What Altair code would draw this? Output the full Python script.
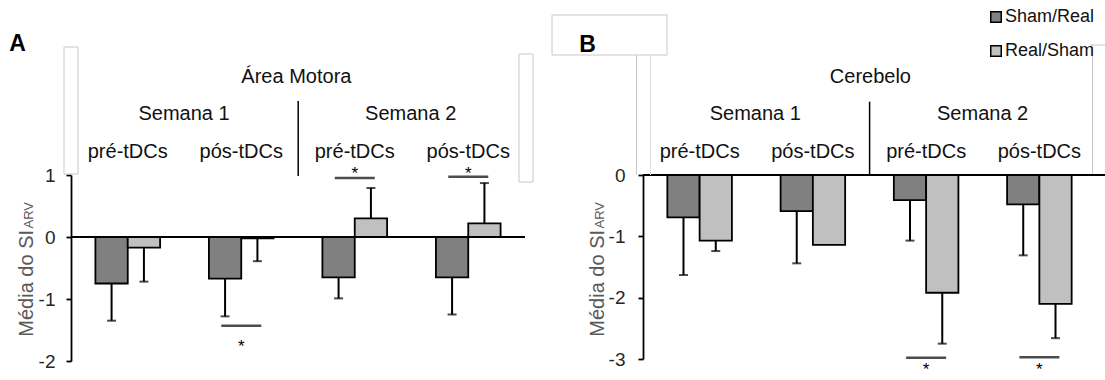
import altair as alt
import pandas as pd

FONT = "Liberation Sans"

# ---------------- data ----------------
groups = ["S1 pré", "S1 pós", "S2 pré", "S2 pós"]
group_labels = ["pré-tDCs", "pós-tDCs", "pré-tDCs", "pós-tDCs"]
series = ["Sham/Real", "Real/Sham"]
colors = ["#808080", "#c0c0c0"]

# Panel A - Área Motora
motor_sham_real = [-0.75, -0.67, -0.65, -0.65]
motor_sham_real_err = [-1.35, -1.28, -0.99, -1.25]
motor_real_sham = [-0.17, -0.02, 0.30, 0.22]
motor_real_sham_err = [-0.72, -0.39, 0.79, 0.87]
motor_sig_groups = ["S1 pós", "S2 pré", "S2 pós"]
motor_sig_line = [-1.43, 0.95, 0.97]
motor_sig_star = [-1.70, 1.09, 1.09]

# Panel B - Cerebelo
cereb_sham_real = [-0.69, -0.59, -0.41, -0.48]
cereb_sham_real_err = [-1.63, -1.44, -1.07, -1.31]
cereb_real_sham = [-1.07, -1.14, -1.92, -2.10]
cereb_real_sham_err = [-1.24, None, -2.75, -2.66]
cereb_sig_groups = ["S2 pré", "S2 pós"]
cereb_sig_line = [-2.98, -2.97]
cereb_sig_star = [-3.09, -3.09]

motor_ticks = [1, 0, -1, -2]
cereb_ticks = [0, -1, -2, -3]


def bars_frame(a, a_err, b, b_err):
    rows = []
    for i, g in enumerate(groups):
        rows.append({"group": g, "series": series[0], "value": a[i], "err": a_err[i]})
        rows.append({"group": g, "series": series[1], "value": b[i], "err": b_err[i]})
    return pd.DataFrame(rows)


def sig_frame(gs, line, star):
    return pd.DataFrame({"group": gs, "line": line, "star": star})


labels_df = pd.DataFrame({"group": groups, "label": group_labels})
ONE = alt.Data(values=[{"k": 1}])


def txt(text, x, y, size=20, weight="normal", color="#111111", align="center",
        angle=0, baseline="middle"):
    return alt.Chart(ONE).mark_text(
        text=text, font=FONT, fontSize=size, fontWeight=weight, color=color,
        align=align, baseline=baseline, angle=angle
    ).encode(x=alt.value(x), y=alt.value(y))


def box(x1, y1, x2, y2, color="#c8c8c8"):
    return alt.Chart(ONE).mark_rect(fillOpacity=0, stroke=color, strokeWidth=1).encode(
        x=alt.value(x1), x2=alt.value(x2), y=alt.value(y1), y2=alt.value(y2))


def vline(x, y1, y2, color="black", w=1.5):
    return alt.Chart(ONE).mark_rule(color=color, strokeWidth=w).encode(
        x=alt.value(x), y=alt.value(y1), y2=alt.value(y2))


def hline(x1, x2, y, color="black", w=1.5):
    return alt.Chart(ONE).mark_rule(color=color, strokeWidth=w).encode(
        x=alt.value(x1), x2=alt.value(x2), y=alt.value(y))


legend = alt.Legend(orient="none", legendX=916, legendY=-167, title=None,
                    symbolType="square", symbolSize=110, symbolStrokeColor="black",
                    symbolStrokeWidth=1.5, symbolOpacity=1, labelFont=FONT,
                    labelFontSize=18, labelColor="#111111", labelOffset=0,
                    rowPadding=16, padding=0)


def panel(df, sig, ydomain, yrange, xrange, ticks, axis_offset, label_pad, zero_x2):
    xscale = alt.Scale(domain=groups, range=xrange, paddingInner=0.43, paddingOuter=0.215)
    X = alt.X("group:N", sort=groups, scale=xscale, axis=None)
    XO = alt.XOffset("series:N", sort=series,
                     scale=alt.Scale(domain=series, paddingInner=0, paddingOuter=0))
    ys = alt.Scale(domain=ydomain, range=yrange, nice=False, zero=False)
    axis = alt.Axis(orient="left", values=ticks, offset=axis_offset, title=None,
                    grid=False, tickSize=5, tickWidth=1.8, tickColor="black",
                    domainColor="black", domainWidth=1.8, labelFont=FONT,
                    labelFontSize=19, labelColor="#262626", labelPadding=label_pad,
                    labelExpr="'' + datum.value", labelFlush=False, labelOverlap=False)
    base = alt.Chart(df)
    bars = base.mark_bar(stroke="black", strokeWidth=1.8).encode(
        x=X, xOffset=XO,
        y=alt.Y("value:Q", scale=ys, axis=axis, stack=None),
        y2=alt.Y2(datum=0),
        color=alt.Color("series:N", sort=series,
                        scale=alt.Scale(domain=series, range=colors), legend=legend),
    )
    err = base.mark_rule(color="black", strokeWidth=2).encode(
        x=X, xOffset=XO, y=alt.Y("value:Q", scale=ys), y2="err:Q")
    caps = base.mark_tick(color="black", thickness=2, size=9).encode(
        x=X, xOffset=XO, y=alt.Y("err:Q", scale=ys))
    zero = alt.Chart(ONE).mark_rule(color="black", strokeWidth=1.8).encode(
        y=alt.YDatum(0, type="quantitative", scale=ys),
        x=alt.value(xrange[0]), x2=alt.value(zero_x2))
    sigc = alt.Chart(sig)
    sig_lines = sigc.mark_tick(color="black", thickness=2.5, size=40).encode(
        x=X, y=alt.Y("line:Q", scale=ys))
    stars = sigc.mark_text(text="*", font=FONT, fontSize=17, dy=5, color="black").encode(
        x=X, y=alt.Y("star:Q", scale=ys))
    labs = alt.Chart(labels_df).mark_text(font=FONT, fontSize=20, color="#111111",
                                          baseline="middle").encode(
        x=X, y=alt.value(-23.3), text="label:N")
    return alt.layer(bars, zero, err, caps, sig_lines, stars, labs)


left = panel(bars_frame(motor_sham_real, motor_sham_real_err, motor_real_sham, motor_real_sham_err),
             sig_frame(motor_sig_groups, motor_sig_line, motor_sig_star),
             [-2, 1], [186, 0], [0, 454], motor_ticks, 0, 11, 454)

right = panel(bars_frame(cereb_sham_real, cereb_sham_real_err, cereb_real_sham, cereb_real_sham_err),
              sig_frame(cereb_sig_groups, cereb_sig_line, cereb_sig_star),
              [-3, 0], [184, 0], [572, 1025], cereb_ticks, -572, 13, 1034)

deco = alt.layer(
    # faint frame remnants
    box(-7, -128, 7, -1),
    box(448, -121, 462, 7),
    box(481, -160, 596, -120),
    vline(565.5, -120, 0, "#c8c8c8", 1),
    vline(579.5, -120, 0, "#e0e0e0", 1),
    vline(1021.5, -130, -1, "#c8c8c8", 1),
    hline(1019, 1034, -130, "#c8c8c8", 1),
    # headers panel A
    txt("Área Motora", 225.4, -98.3),
    txt("Semana 1", 113, -61),
    txt("Semana 2", 339.7, -61),
    vline(227.2, -74, 1),
    # headers panel B
    txt("Cerebelo", 799.4, -98.3),
    txt("Semana 1", 684.3, -61),
    txt("Semana 2", 911.6, -61),
    vline(798.6, -73.3, 0),
    # panel letters
    txt("A", -61.7, -131, size=23, weight="bold", color="black", align="left"),
    txt("B", 508.3, -130, size=23, weight="bold", color="black", align="left"),
    # y titles
    txt("Média do SI", -38, 161.7, size=20, color="#595959", align="left", angle=270,
        baseline="alphabetic"),
    txt("ARV", -38, 53.5, size=13, color="#595959", align="left", angle=270,
        baseline="alphabetic"),
    txt("Média do SI", 532.5, 161.7, size=20, color="#595959", align="left", angle=270,
        baseline="alphabetic"),
    txt("ARV", 532.5, 53.5, size=13, color="#595959", align="left", angle=270,
        baseline="alphabetic"),
)

chart = alt.layer(left, right, deco).resolve_scale(
    x="independent", y="independent", xOffset="independent"
).properties(
    width=1034, height=186,
    padding={"left": 71, "top": 175, "right": 0, "bottom": 19},
    autosize=alt.AutoSizeParams(type="none"),
).configure_view(stroke=None)

chart.save("out.html", embed_options={"renderer": "svg", "actions": False})
